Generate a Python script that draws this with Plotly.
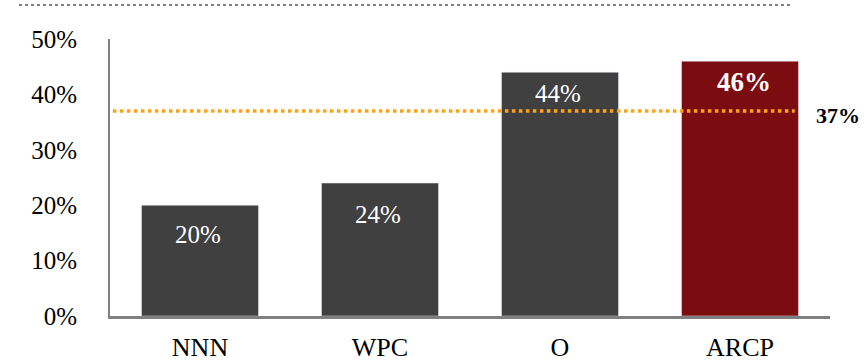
import plotly.graph_objects as go

# Data
categories = ["NNN", "WPC", "O", "ARCP"]
values = [20, 24, 44, 46]
average = 37
y_ticks = [0, 10, 20, 30, 40, 50]
y_tick_labels = [f"{t}%" for t in y_ticks]

# Styles
bar_colors = ["#404040", "#404040", "#404040", "#7B0C10"]
label_bold = [False, False, False, True]
label_size = [25, 25, 25, 27]
label_shift = [-29, -31, -21, -21]
FONT = "Liberation Serif"
FS = 25

fig = go.Figure()
fig.add_trace(go.Bar(
    x=categories, y=values, marker_color=bar_colors, width=0.65,
    hoverinfo="skip",
))

for cat, v, bold, sz, dy in zip(categories, values, label_bold, label_size, label_shift):
    txt = f"<b>{v}%</b>" if bold else f"{v}%"
    fig.add_annotation(x=cat, y=v, xref="x", yref="y", text=txt, showarrow=False,
                       yanchor="middle", yshift=dy, xshift=4 if bold else -2,
                       font=dict(family=FONT, size=sz, color="white"))

# Average reference line and its label
fig.add_shape(type="line", xref="paper", yref="y", x0=0.004, x1=0.951,
              y0=average, y1=average,
              line=dict(color="#FFA21A", width=3.5, dash="dot"))
fig.add_annotation(xref="paper", yref="y", x=1.011, y=average, yshift=-4,
                   text=f"<b>{average}%</b>", showarrow=False,
                   xanchor="center", yanchor="middle",
                   font=dict(family=FONT, size=22, color="black"))

# Thin dotted rule along the top of the figure
fig.add_shape(type="line", xref="paper", yref="paper",
              x0=(19 - 110) / 720, x1=(793 - 110) / 720,
              y0=1 + (39 - 5) / 277, y1=1 + (39 - 5) / 277,
              line=dict(color="#555555", width=1.5, dash="dot"))

fig.update_layout(
    width=864, height=362,
    margin=dict(l=110, r=34, t=39, b=46),
    plot_bgcolor="white", paper_bgcolor="white",
    showlegend=False,
    font=dict(family=FONT, size=FS, color="black"),
    xaxis=dict(range=[-0.5, 3.5], showgrid=False, zeroline=False,
               showline=True, linecolor="#808080", linewidth=2.5,
               ticks="", ticklabelstandoff=6, automargin=False,
               tickfont=dict(family=FONT, size=26)),
    yaxis=dict(range=[0, 50], tickvals=y_ticks, ticktext=y_tick_labels,
               showgrid=False, zeroline=False,
               showline=True, linecolor="#808080", linewidth=2,
               ticks="", ticklabelstandoff=26, automargin=False,
               tickfont=dict(family=FONT, size=FS)),
)

fig.write_html("out.html")
